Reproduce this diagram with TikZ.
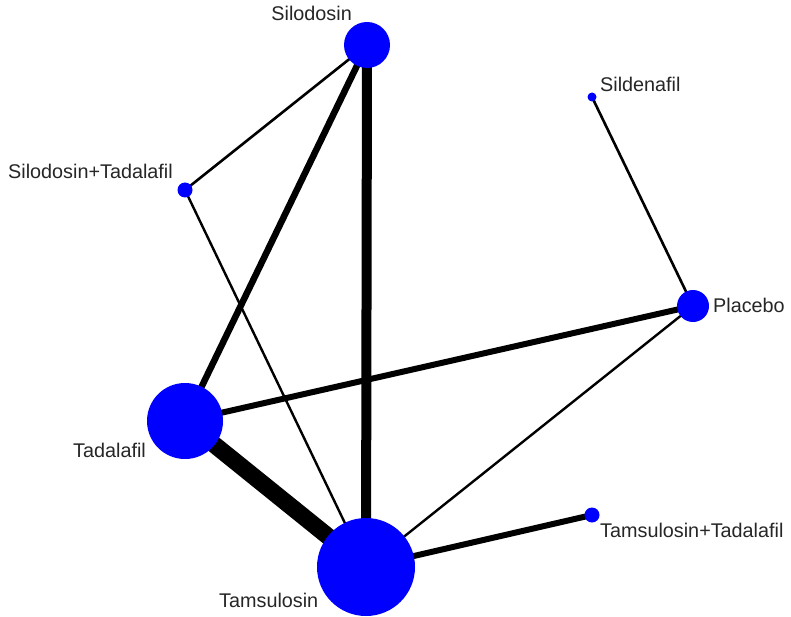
\documentclass[tikz,border=0pt]{standalone}
\usepackage{fontspec}
\setmainfont{Liberation Sans}
\usetikzlibrary{backgrounds}
\definecolor{netblue}{RGB}{0,0,255}
\begin{document}
\begin{tikzpicture}[x=1pt,y=-1pt,
  trt/.style={circle,fill=netblue,draw=none,inner sep=0pt,minimum size=#1},
  lbl/.style={inner sep=0pt,font=\fontsize{19.8}{22}\selectfont,text=black!85},
  edge/.style={draw=black,line width=#1}]
\useasboundingbox (0,0) rectangle (791,617);
% treatment nodes
\node[trt=46pt] (silo) at (367,45) {};
\node[trt=9pt] (silde) at (592,97) {};
\node[trt=15pt] (silotad) at (185,190) {};
\node[trt=32pt] (plac) at (693,306) {};
\node[trt=76pt] (tada) at (185,421) {};
\node[trt=98pt] (tams) at (366,567) {};
\node[trt=15pt] (tamstad) at (592,515) {};
% labels
\node[lbl,anchor=base east] (lsilo) at (352,21) {Silodosin};
\node[lbl,anchor=base west] (lsilde) at (600,92) {Sildenafil};
\node[lbl,anchor=base west] (lsilotad) at (8,179) {Silodosin+Tadalafil};
\node[lbl,anchor=base west] (lplac) at (713,312) {Placebo};
\node[lbl,anchor=base west] (ltada) at (73,457) {Tadalafil};
\node[lbl,anchor=base west] (ltams) at (219,607) {Tamsulosin};
\node[lbl,anchor=base west] (ltamstad) at (600,537) {Tamsulosin+Tadalafil};
% edges
\begin{scope}[on background layer]
\fill[white] (0,0) rectangle (791,617);
\draw[edge=2.6pt] (silo.center) -- (silotad.center);
\draw[edge=6.5pt] (silo.center) -- (tada.center);
\draw[edge=10pt] (silo.center) -- (tams.center);
\draw[edge=2.4pt] (silotad.center) -- (tams.center);
\draw[edge=2.6pt] (silde.center) -- (plac.center);
\draw[edge=6pt] (plac.center) -- (tada.center);
\draw[edge=2.4pt] (plac.center) -- (tams.center);
\draw[edge=17pt] (tada.center) -- (tams.center);
\draw[edge=6pt] (tams.center) -- (tamstad.center);
\end{scope}
\end{tikzpicture}
\end{document}
